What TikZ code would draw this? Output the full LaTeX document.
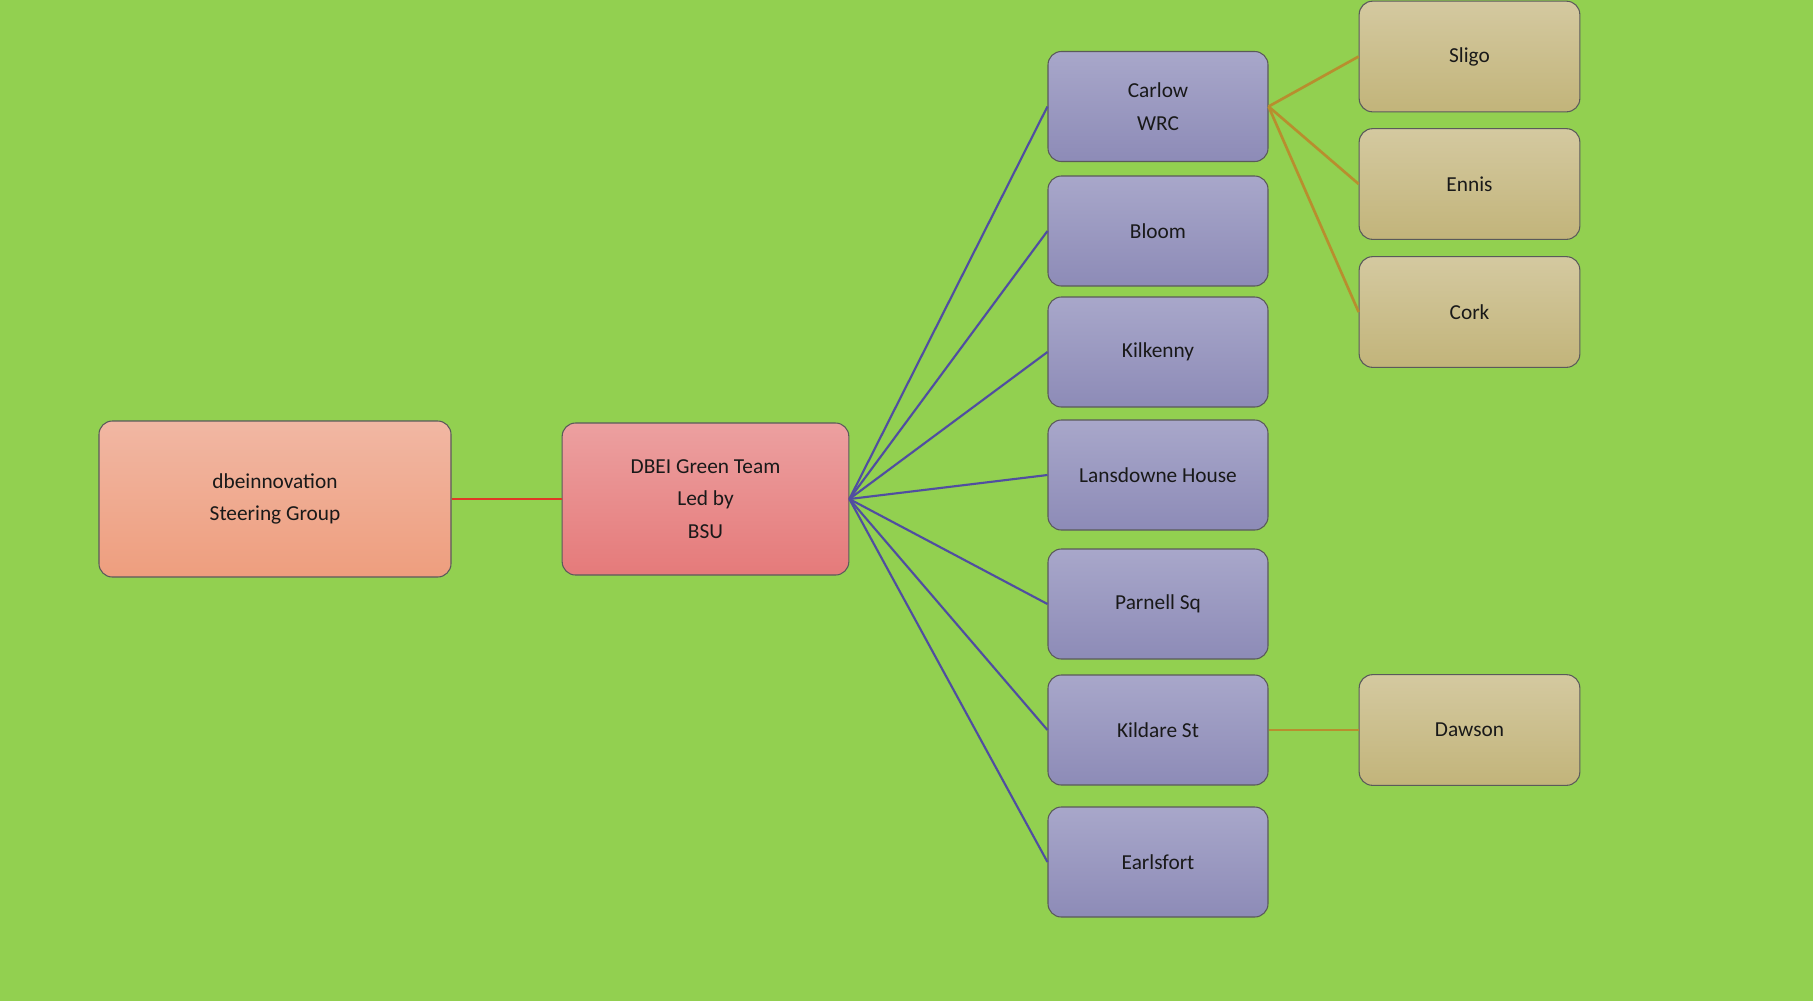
\documentclass[tikz,border=0pt]{standalone}
\usepackage{fontspec}
\setmainfont{Carlito}
\usetikzlibrary{positioning}
\definecolor{bggreen}{RGB}{146, 208, 80}
\definecolor{officetop}{RGB}{168, 167, 202}
\definecolor{officebot}{RGB}{141, 139, 183}
\definecolor{branchtop}{RGB}{212, 201, 160}
\definecolor{branchbot}{RGB}{194, 180, 122}
\definecolor{steertop}{RGB}{241, 183, 163}
\definecolor{steerbot}{RGB}{238, 158, 126}
\definecolor{teamtop}{RGB}{236, 160, 160}
\definecolor{teambot}{RGB}{229, 122, 122}
\definecolor{edgegray}{RGB}{90, 90, 90}
\definecolor{bluelink}{RGB}{80, 78, 160}
\definecolor{tanlink}{RGB}{184, 142, 46}
\definecolor{redlink}{RGB}{224, 56, 38}

\begin{document}
\begin{tikzpicture}[x=0.75pt, y=-0.75pt,
            box/.style={rectangle, draw=edgegray, line width=0.8pt, rounded corners=10pt, align=center,
                        font=\fontsize{16}{24.5}\selectfont, text=black!90, inner sep=0pt},
            office/.style={box, top color=officetop, bottom color=officebot, minimum width=165pt, minimum height=82.5pt},
            branch/.style={box, top color=branchtop, bottom color=branchbot, minimum width=165.5pt, minimum height=83pt},
            link/.style={line width=1.6pt}
        ]
            \fill[bggreen] (0,0) rectangle (1813,1001);
            \useasboundingbox (0,0) rectangle (1813,1001);

            \node[box, top color=steertop, bottom color=steerbot, minimum width=264pt, minimum height=117pt] (steer) at (275,499) {dbeinnovation\\Steering Group};
            \node[box, top color=teamtop, bottom color=teambot, minimum width=215pt, minimum height=114pt] (team) at (705.5,499) {DBEI Green Team\\Led by\\BSU};

            \node[office] (carlow) at (1158,106.5) {Carlow\\WRC};
            \node[office] (bloom) at (1158,231) {Bloom};
            \node[office] (kilkenny) at (1158,352) {Kilkenny};
            \node[office] (lansdowne) at (1158,475) {Lansdowne House};
            \node[office] (parnell) at (1158,604) {Parnell Sq};
            \node[office] (kildare) at (1158,730) {Kildare St};
            \node[office] (earlsfort) at (1158,862) {Earlsfort};

            \node[branch] (sligo) at (1469.5,56.5) {Sligo};
            \node[branch] (ennis) at (1469.5,184) {Ennis};
            \node[branch] (cork) at (1469.5,312) {Cork};
            \node[branch] (dawson) at (1469.5,730) {Dawson};

            \draw[link, redlink, line width=2.2pt] (steer.east) -- (team.west);
            \foreach \x in {carlow, bloom, kilkenny, lansdowne, parnell, kildare, earlsfort}
                \draw[link, bluelink] (team.east) -- (\x.west);
            \foreach \x in {sligo, ennis, cork}
                \draw[link, tanlink, line width=2pt] (carlow.east) -- (\x.west);
            \draw[link, tanlink, line width=2pt] (kildare.east) -- (dawson.west);
        \end{tikzpicture}
\end{document}
